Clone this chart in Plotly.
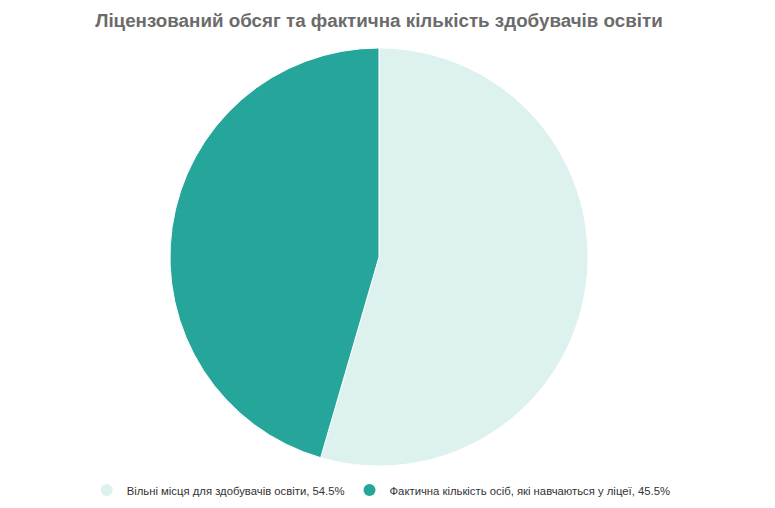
import plotly.graph_objects as go

labels = ["Вільні місця для здобувачів освіти", "Фактична кількість осіб, які навчаються у ліцеї"]
values = [54.5, 45.5]
colors = ["#ddf1ef", "#26a69a"]

fig = go.Figure()
fig.add_trace(go.Pie(
    labels=labels, values=values, sort=False, direction="clockwise", rotation=0,
    marker=dict(colors=colors, line=dict(color="#ffffff", width=1)),
    textinfo="none", hoverinfo="label+percent", showlegend=False,
    domain=dict(x=[0.2090, 0.7484], y=[0.0984, 0.9213]),
))
for lab, val, col in zip(labels, values, colors):
    fig.add_trace(go.Scatter(
        x=[None], y=[None], mode="markers", name=f"{lab}, {val}%",
        marker=dict(symbol="circle", size=12, color=col),
    ))

fig.update_layout(
    width=775, height=508,
    margin=dict(l=0, r=0, t=0, b=0),
    paper_bgcolor="white", plot_bgcolor="white",
    title=dict(text="<b>Ліцензований обсяг та фактична кількість здобувачів освіти</b>",
               x=0.4787, xanchor="center", y=0.976, yanchor="middle",
               font=dict(family="Liberation Sans, Arial, sans-serif", size=18.8, color="#6b6b6b")),
    font=dict(family="Liberation Sans, Arial, sans-serif", size=11.3, color="#333333"),
    legend=dict(orientation="h", x=0.4815, xanchor="center", y=0.051, yanchor="middle",
                font=dict(size=11.3, color="#333333"), itemsizing="constant", itemwidth=30),
    xaxis=dict(visible=False, domain=[0, 1]), yaxis=dict(visible=False, domain=[0, 1]),
)
fig.write_html("out.html")
